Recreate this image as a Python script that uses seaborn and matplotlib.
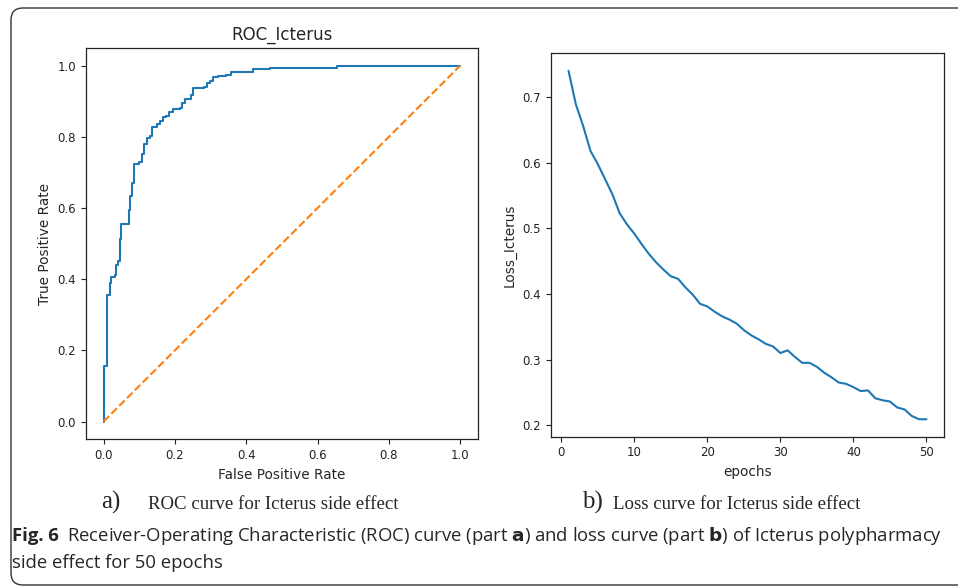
import numpy as np
import pandas as pd
import matplotlib
matplotlib.use("Agg")
import matplotlib.pyplot as plt
from matplotlib.patches import FancyBboxPatch
from matplotlib.transforms import IdentityTransform
import seaborn as sns

# ── Data ────────────────────────────────────────────────────────────────────
# ROC: x of each jump and the TPR level reached there (drawn as steps-post)
fpr = [0.0, 0.0, 0.011, 0.017, 0.021, 0.033, 0.034, 0.040, 0.045, 0.050,
       0.070, 0.072, 0.075, 0.080, 0.086, 0.098, 0.109, 0.114, 0.121, 0.129,
       0.137, 0.149, 0.158, 0.166, 0.175, 0.183, 0.194, 0.214, 0.220, 0.228,
       0.244, 0.252, 0.282, 0.289, 0.298, 0.306, 0.322, 0.343, 0.356, 0.418,
       0.466, 0.654, 1.0]
tpr = [0.0, 0.157, 0.356, 0.389, 0.406, 0.412, 0.440, 0.450, 0.513, 0.556,
       0.558, 0.595, 0.635, 0.670, 0.724, 0.728, 0.753, 0.781, 0.797, 0.803,
       0.829, 0.837, 0.845, 0.856, 0.859, 0.869, 0.878, 0.881, 0.895, 0.906,
       0.918, 0.937, 0.939, 0.951, 0.956, 0.967, 0.972, 0.975, 0.981, 0.991,
       0.993, 1.0, 1.0]
chance = [0.0, 1.0]

epochs = list(range(1, 51))
loss = [0.740, 0.689, 0.656, 0.618, 0.598, 0.575, 0.552, 0.523, 0.506, 0.492,
        0.476, 0.461, 0.448, 0.437, 0.427, 0.423, 0.410, 0.399, 0.385, 0.381,
        0.373, 0.366, 0.361, 0.355, 0.345, 0.337, 0.331, 0.324, 0.320, 0.310,
        0.314, 0.304, 0.295, 0.295, 0.289, 0.280, 0.273, 0.265, 0.263, 0.258,
        0.252, 0.253, 0.241, 0.238, 0.236, 0.227, 0.224, 0.214, 0.209, 0.209]

roc_df = pd.DataFrame({"fpr": fpr, "tpr": tpr})
loss_df = pd.DataFrame({"epoch": epochs, "loss": loss})

# ── Style ───────────────────────────────────────────────────────────────────
sns.set_theme(style="ticks")
plt.rcParams["font.family"] = ["DejaVu Sans"]
plt.rcParams["axes.edgecolor"] = "#222222"
plt.rcParams["axes.linewidth"] = 0.9

W, H = 958, 586
fig = plt.figure(figsize=(W / 100, H / 100), dpi=100)

TICK_FS, LAB_FS, TITLE_FS = 8.5, 9.8, 12
BLUE, ORANGE = "#1f77b4", "#ff7f0e"

# ── a) ROC curve ────────────────────────────────────────────────────────────
ax1 = fig.add_axes([0.0895, 0.2503, 0.4095, 0.668])
sns.lineplot(data=roc_df, x="fpr", y="tpr", estimator=None, sort=False,
             drawstyle="steps-post", color=BLUE, linewidth=1.5, ax=ax1)
sns.lineplot(x=chance, y=chance, estimator=None, sort=False,
             color=ORANGE, linestyle="--", linewidth=1.5, ax=ax1)
ax1.set_title("ROC_Icterus", fontsize=TITLE_FS, pad=6)
ax1.set_xlabel("False Positive Rate", fontsize=LAB_FS)
ax1.set_ylabel("True Positive Rate", fontsize=LAB_FS)
ax1.set_xticks([0, 0.2, 0.4, 0.6, 0.8, 1.0])
ax1.set_yticks([0, 0.2, 0.4, 0.6, 0.8, 1.0])
ax1.set_xlim(-0.05, 1.05)
ax1.set_ylim(-0.05, 1.05)

# ── b) Loss curve ───────────────────────────────────────────────────────────
ax2 = fig.add_axes([0.5748, 0.2548, 0.4109, 0.654])
sns.lineplot(data=loss_df, x="epoch", y="loss", color=BLUE, linewidth=1.5, ax=ax2)
ax2.set_xlabel("epochs", fontsize=LAB_FS)
ax2.set_ylabel("Loss_Icterus", fontsize=LAB_FS)
ax2.set_xticks([0, 10, 20, 30, 40, 50])
ax2.set_yticks([0.2, 0.3, 0.4, 0.5, 0.6, 0.7])

for ax in (ax1, ax2):
    ax.tick_params(labelsize=TICK_FS, length=3.5, width=0.8, colors="#222222")
    for s in ax.spines.values():
        s.set_visible(True)

# ── Captions ────────────────────────────────────────────────────────────────
def px(x, y):
    return x / W, 1 - y / H

serif = ["Liberation Serif", "DejaVu Serif"]
fig.text(*px(101, 509), "a)", fontsize=18, family=serif, va="baseline")
fig.text(*px(148, 509), "ROC curve for Icterus side effect", fontsize=13.6,
         family=serif, va="baseline")
fig.text(*px(582, 509), "b)", fontsize=18, family=serif, va="baseline")
fig.text(*px(613, 509), "Loss curve for Icterus side effect", fontsize=13.6,
         family=serif, va="baseline")

cap = ["Open Sans", "DejaVu Sans"]
fig.text(*px(12, 541), "Fig. 6", fontsize=13.3, family=cap, weight="bold",
         va="baseline")
fig.text(*px(67, 541),
         "Receiver-Operating Characteristic (ROC) curve (part $\\bf{a}$) and loss "
         "curve (part $\\bf{b}$) of Icterus polypharmacy",
         fontsize=13.3, family=cap, va="baseline")
fig.text(*px(12, 568), "side effect for 50 epochs", fontsize=13.3, family=cap,
         va="baseline")

# rounded frame around the figure block (open to the right / bottom)
frame = FancyBboxPatch((11, 1), 980, 577, boxstyle="round,pad=0,rounding_size=12",
                       transform=IdentityTransform(), fill=False,
                       edgecolor="#333333", linewidth=1.0)
fig.add_artist(frame)

fig.savefig("out.png", dpi=100)
